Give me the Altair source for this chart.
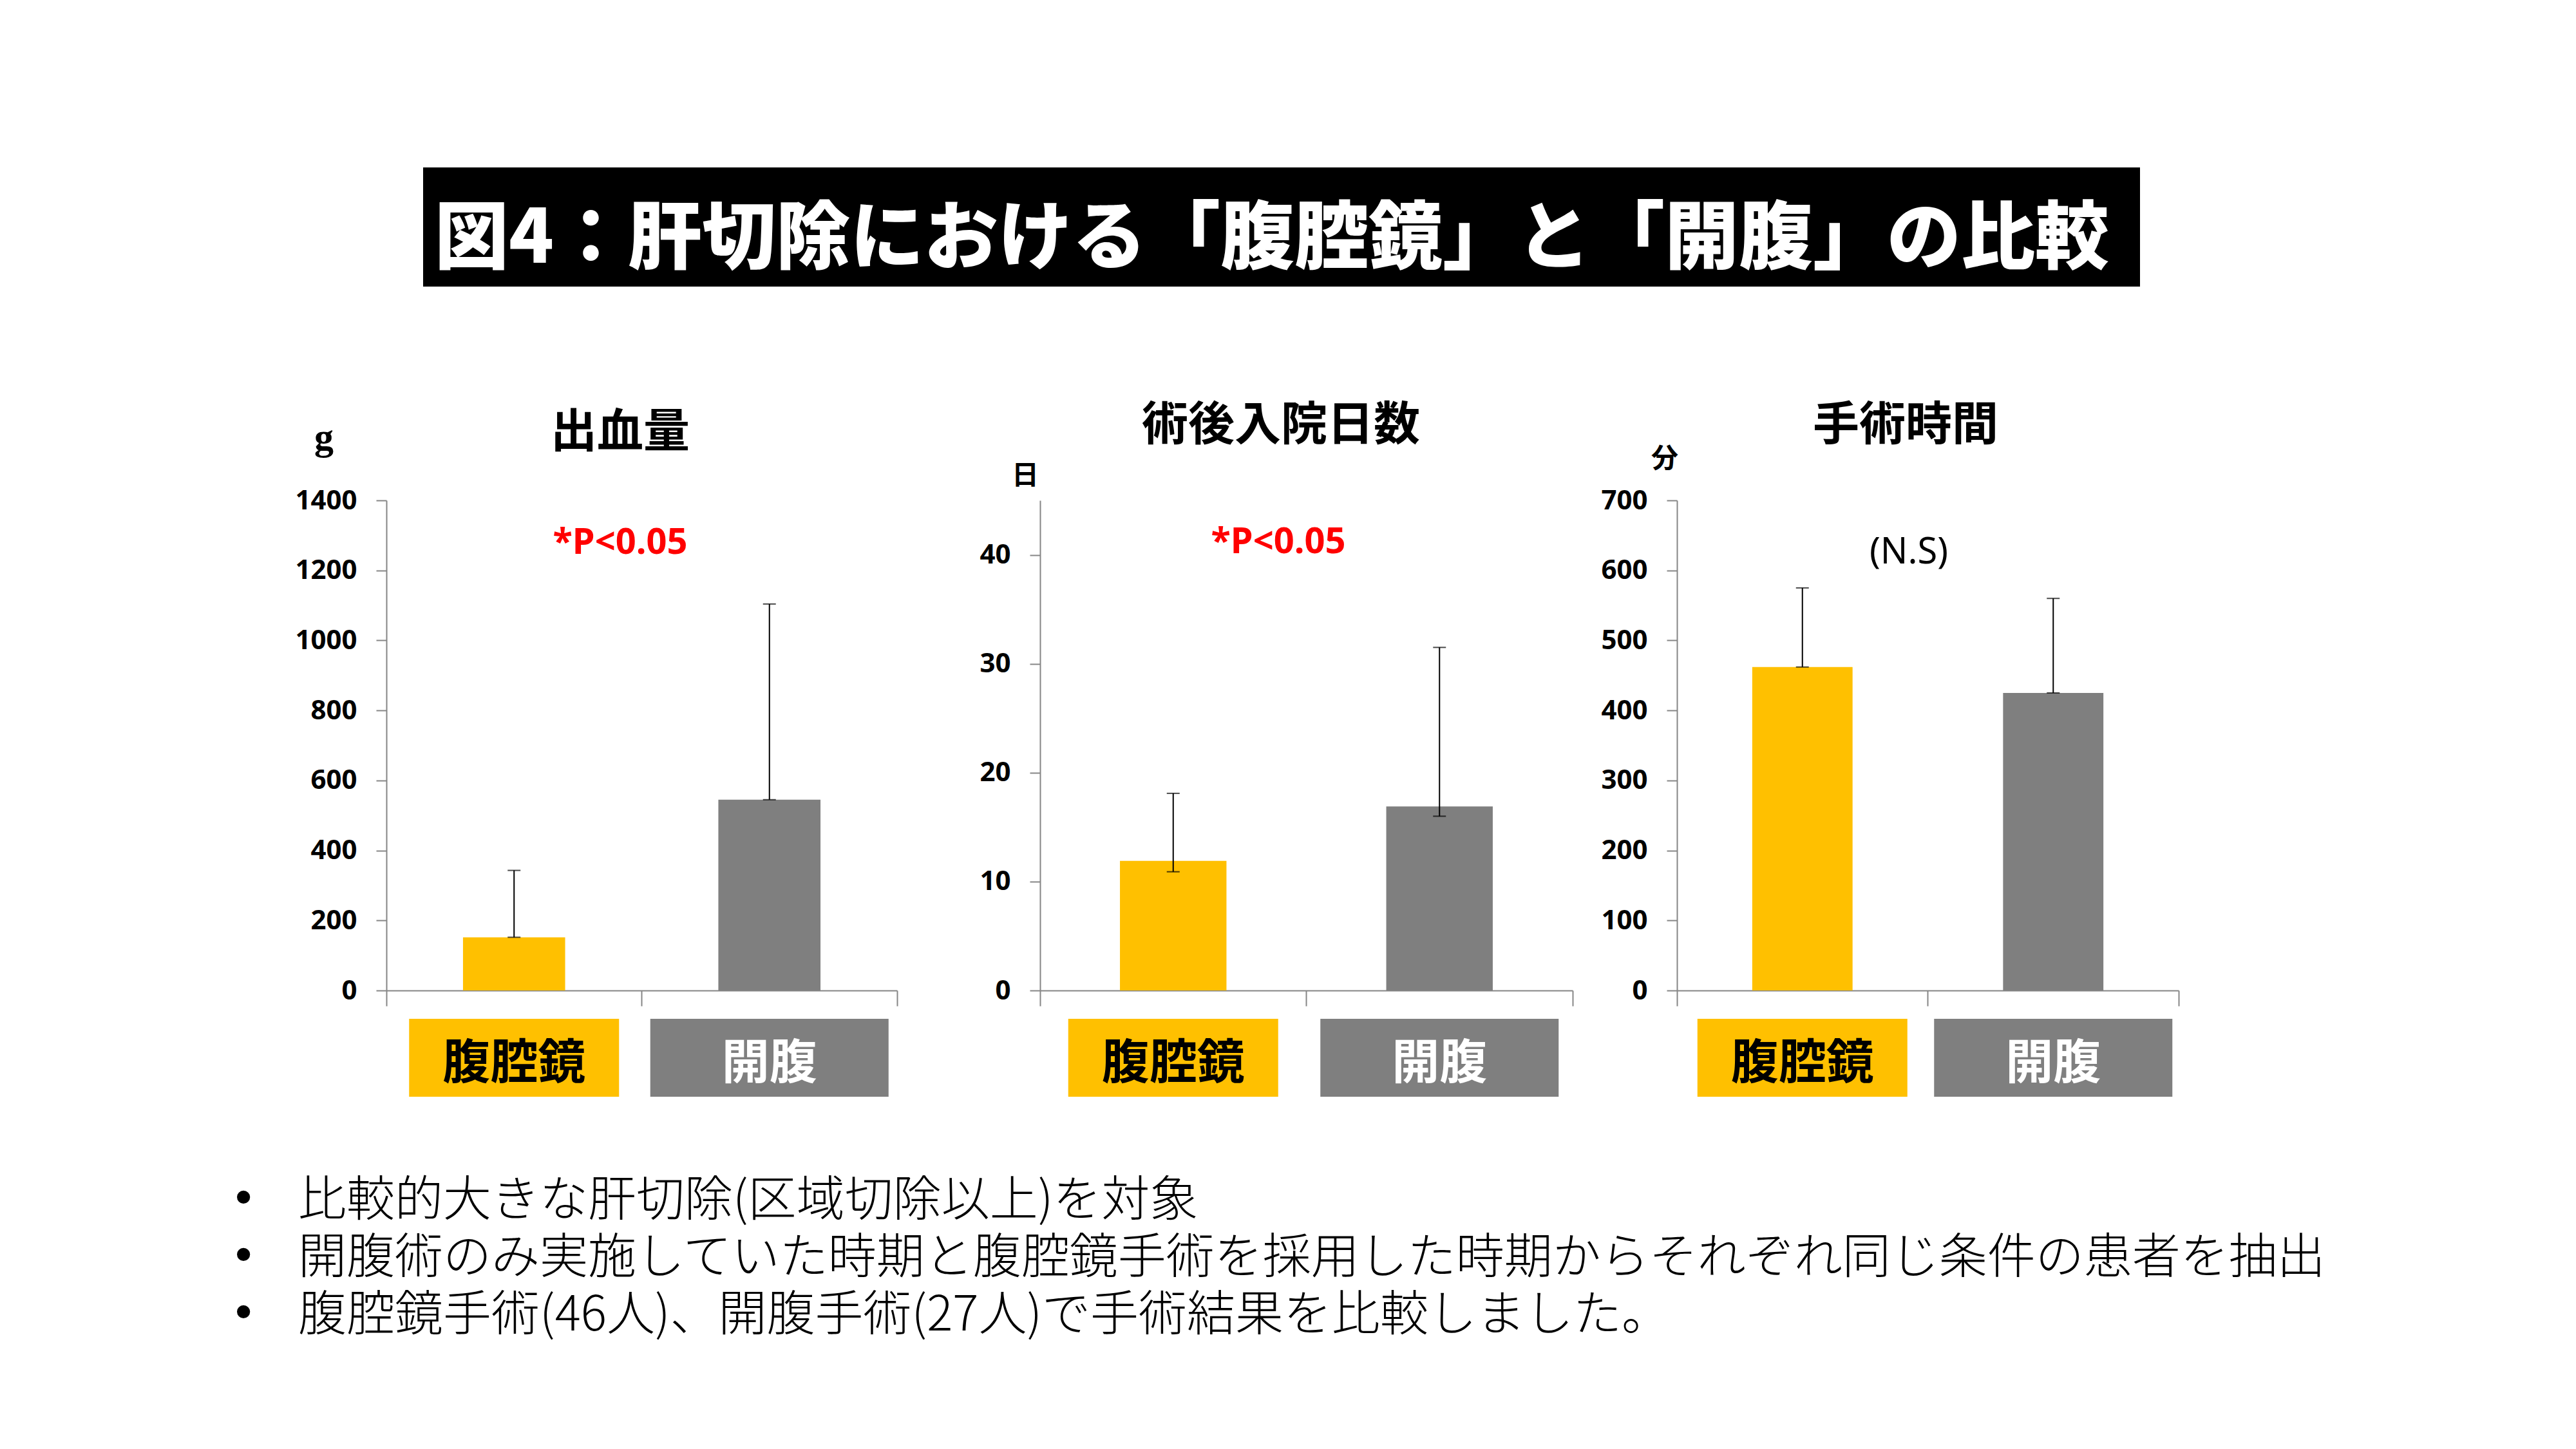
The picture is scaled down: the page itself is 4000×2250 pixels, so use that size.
import altair as alt
import pandas as pd

# ---------------- data ----------------
categories = ["腹腔鏡", "開腹"]
label_colors = ["#000000", "#FFFFFF"]

blood_mean = [152, 545]
blood_low = [152, 545]
blood_high = [343, 1104]
blood_ticks = [0, 200, 400, 600, 800, 1000, 1200, 1400]

stay_mean = [11.9, 16.9]
stay_low = [10.9, 16.0]
stay_high = [18.1, 31.5]
stay_ticks = [0, 10, 20, 30, 40]

optime_mean = [462, 425]
optime_low = [462, 425]
optime_high = [575, 560]
optime_ticks = [0, 100, 200, 300, 400, 500, 600, 700]

panel_titles = ["出血量", "術後入院日数", "手術時間"]
units = ["g", "日", "分"]
p_labels = ["*P<0.05", "*P<0.05", "(N.S)"]

main_title = "図4：肝切除における「腹腔鏡」と「開腹」の比較"
bullet_lines = [
    "比較的大きな肝切除(区域切除以上)を対象",
    "開腹術のみ実施していた時期と腹腔鏡手術を採用した時期からそれぞれ同じ条件の患者を抽出",
    "腹腔鏡手術(46人)、開腹手術(27人)で手術結果を比較しました。",
]

# ---------------- style / layout ----------------
W, H = 3976, 2220
ZERO_Y = 1530
TOP_Y = 769
YELLOW = "#FFC000"
GRAY = "#7F7F7F"
AXIS_GRAY = "#868686"
CJK = "Noto Sans CJK JP"
LATIN = "Noto Sans"

panel_xranges = [(592, 1385), (1607, 2434), (2596, 3375)]
panel_ydomains = [(0, 1400), (0, 45), (0, 700)]
title_pos = [(955, 664), (1981, 653), (2951, 653)]
unit_pos = [(495, 672), (1584, 731), (2577, 705)]
p_pos = [(955, 835), (1977, 834), (2956, 850)]
BOX_TOP, BOX_BOTTOM, BOX_TEXT_Y = 1574, 1695, 1645
BOX_WIDTHS = [326, 370]


def panel(means, lows, highs, ydomain, yticks, xrange):
    df = pd.DataFrame({
        "cat": categories, "val": means, "low": lows, "high": highs,
        "labcolor": label_colors,
    })
    xaxis = alt.Axis(
        orient="bottom", offset=ZERO_Y - H, labels=False, title=None,
        domainColor=AXIS_GRAY, tickColor=AXIS_GRAY, domainWidth=2, tickWidth=2,
        tickSize=24, bandPosition=1, tickExtra=True, grid=False,
    )
    yaxis = alt.Axis(
        orient="left", offset=-xrange[0], values=yticks, format="d", title=None,
        labelFont=LATIN, labelFontWeight="bold", labelFontSize=42,
        labelColor="#000000", labelPadding=30, tickSize=16,
        domainColor=AXIS_GRAY, tickColor=AXIS_GRAY, domainWidth=2, tickWidth=2,
        grid=False,
    )
    xs = alt.Scale(domain=categories, range=list(xrange), paddingInner=0, paddingOuter=0)
    ys = alt.Scale(domain=list(ydomain), range=[ZERO_Y, TOP_Y], nice=False, zero=True)
    X = alt.X("cat:N", sort=categories, scale=xs, axis=xaxis)

    base = alt.Chart(df)
    bars = base.mark_bar(width=alt.RelativeBandSize(0.4)).encode(
        x=X,
        y=alt.Y("val:Q", scale=ys, axis=yaxis),
        color=alt.Color("cat:N", scale=alt.Scale(domain=categories, range=[YELLOW, GRAY]), legend=None),
    )
    rule = base.mark_rule(color="black", strokeWidth=2).encode(
        x=X, y=alt.Y("low:Q", scale=ys, axis=yaxis), y2="high:Q"
    )
    cap_hi = base.mark_tick(color="black", size=20, thickness=2).encode(
        x=X, y=alt.Y("high:Q", scale=ys, axis=yaxis)
    )
    cap_lo = base.mark_tick(color="black", size=20, thickness=2).encode(
        x=X, y=alt.Y("low:Q", scale=ys, axis=yaxis)
    )
    boxes = []
    for cat, col, bw in zip(categories, [YELLOW, GRAY], BOX_WIDTHS):
        boxes.append(
            base.transform_filter(alt.datum.cat == cat)
            .mark_bar(width=bw, color=col)
            .encode(x=X, y=alt.value(BOX_TOP), y2=alt.value(BOX_BOTTOM))
        )
    box_text = base.mark_text(
        font=CJK, fontWeight="bold", fontSize=74, baseline="middle", align="center"
    ).encode(
        x=X, y=alt.value(BOX_TEXT_Y), text="cat:N",
        color=alt.Color("labcolor:N", scale=None),
    )
    return alt.layer(bars, rule, cap_lo, cap_hi, *boxes, box_text)


p1 = panel(blood_mean, blood_low, blood_high, panel_ydomains[0], blood_ticks, panel_xranges[0])
p2 = panel(stay_mean, stay_low, stay_high, panel_ydomains[1], stay_ticks, panel_xranges[1])
p3 = panel(optime_mean, optime_low, optime_high, panel_ydomains[2], optime_ticks, panel_xranges[2])

texts = []
# main title
tdf = pd.DataFrame({"t": [main_title]})
texts.append(
    alt.Chart(tdf).mark_rect(color="black").encode(
        x=alt.value(649), x2=alt.value(3315), y=alt.value(252), y2=alt.value(437)
    )
)
texts.append(
    alt.Chart(tdf).mark_text(
        font=CJK, fontWeight=900, fontSize=115, color="white", align="center", baseline="middle"
    ).encode(x=alt.value(1967), y=alt.value(365), text="t:N")
)
for i in range(3):
    texts.append(
        alt.Chart(pd.DataFrame({"t": [panel_titles[i]]})).mark_text(
            font=CJK, fontWeight="bold", fontSize=72, color="black", align="center", baseline="middle"
        ).encode(x=alt.value(title_pos[i][0]), y=alt.value(title_pos[i][1]), text="t:N")
    )
    unit_font = "Liberation Serif" if units[i] == "g" else CJK
    texts.append(
        alt.Chart(pd.DataFrame({"t": [units[i]]})).mark_text(
            font=unit_font, fontWeight="bold", fontSize=60 if units[i] == "g" else 42,
            color="black", align="center", baseline="middle"
        ).encode(x=alt.value(unit_pos[i][0]), y=alt.value(unit_pos[i][1]), text="t:N")
    )
    is_sig = p_labels[i].startswith("*")
    texts.append(
        alt.Chart(pd.DataFrame({"t": [p_labels[i]]})).mark_text(
            font=LATIN, fontWeight="bold" if is_sig else "normal",
            fontSize=56, color="#FF0000" if is_sig else "black",
            align="center", baseline="middle"
        ).encode(x=alt.value(p_pos[i][0]), y=alt.value(p_pos[i][1]), text="t:N")
    )

bullet_y = [1857, 1946, 2035]
for i, line in enumerate(bullet_lines):
    texts.append(
        alt.Chart(pd.DataFrame({"t": ["•"]})).mark_text(
            font="Liberation Sans", fontSize=75, color="black", align="center", baseline="middle"
        ).encode(x=alt.value(370), y=alt.value(bullet_y[i] - 4), text="t:N")
    )
    texts.append(
        alt.Chart(pd.DataFrame({"t": [line]})).mark_text(
            font=CJK, fontWeight=300, fontSize=75, color="black", align="left", baseline="middle"
        ).encode(x=alt.value(455), y=alt.value(bullet_y[i]), text="t:N")
    )

chart = alt.layer(p1, p2, p3, *texts).resolve_scale(
    x="independent", y="independent"
).resolve_axis(
    x="independent", y="independent"
).properties(
    width=W, height=H, autosize=alt.AutoSizeParams(type="none"), padding=0,
    background="white",
).configure_view(strokeWidth=0)

chart.save("out.html", embed_options={"renderer": "svg", "actions": False})
